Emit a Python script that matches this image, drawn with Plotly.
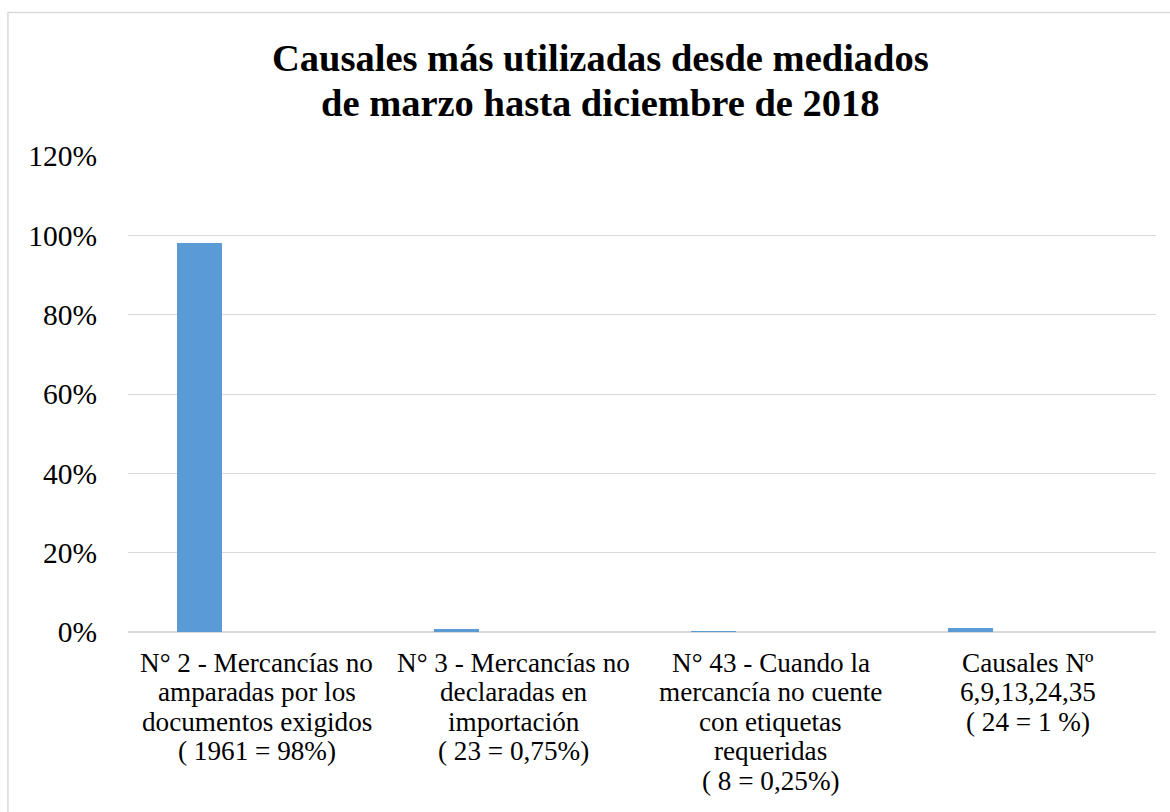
import plotly.graph_objects as go

categories = [
    "N° 2 - Mercancías no<br>amparadas por los<br>documentos exigidos<br>( 1961 = 98%)",
    "N° 3 - Mercancías no<br>declaradas en<br>importación<br>( 23 = 0,75%)",
    "N° 43 - Cuando la<br>mercancía no cuente<br>con etiquetas<br>requeridas<br>( 8 = 0,25%)",
    "Causales Nº<br>6,9,13,24,35<br>( 24 = 1 %)",
]
values = [0.98, 0.0075, 0.0025, 0.01]
y_ticks = [0, 0.2, 0.4, 0.6, 0.8, 1.0, 1.2]
y_labels = ["0%", "20%", "40%", "60%", "80%", "100%", "120%"]
title_lines = ["Causales más utilizadas desde mediados", "de marzo hasta diciembre de 2018"]

FONT = "Liberation Serif"
W, H = 1170, 812
L, R, T, B = 128, 14.3, 155.7, 179.7

fig = go.Figure()
fig.add_trace(go.Bar(
    x=list(range(len(categories))), y=values,
    width=0.174, offset=-0.3085,
    marker=dict(color="#5b9bd5", line=dict(width=0)),
    hoverinfo="y",
))

# category labels, one annotation per line
line_gap = 29.5
first = 30.7
for i, cat in enumerate(categories):
    for j, line in enumerate(cat.split("<br>")):
        fig.add_annotation(
            x=i, y=0, xref="x", yref="y", text=line, showarrow=False,
            yanchor="middle", xanchor="center",
            yshift=-(first + j * line_gap),
            font=dict(family=FONT, size=27.2, color="#000000"),
        )

# title lines
for j, (line, ys) in enumerate(zip(title_lines, [155.7 - 58, 155.7 - 103])):
    fig.add_annotation(
        x=(600 - L) / (W - L - R), y=1, xref="paper", yref="paper",
        text=f"<b>{line}</b>", showarrow=False,
        xanchor="center", yanchor="middle", yshift=ys,
        font=dict(family=FONT, size=38.5, color="#000000"),
    )

# outer border
pw = W - L - R
ph = H - T - B
fig.add_shape(
    type="rect", xref="paper", yref="paper",
    x0=(8 - L) / pw, x1=(W + 20 - L) / pw,
    y0=-(B + 20) / ph, y1=(H - B - 12) / ph,
    line=dict(color="#d9d9d9", width=1.5), fillcolor="rgba(0,0,0,0)",
    layer="below",
)

fig.update_layout(
    width=W, height=H,
    margin=dict(l=L, r=R, t=T, b=B, pad=0),
    paper_bgcolor="#ffffff", plot_bgcolor="#ffffff",
    showlegend=False, bargap=0,
    font=dict(family=FONT, color="#000000"),
)
fig.update_xaxes(
    type="linear", range=[-0.5, 3.5], showgrid=False, showticklabels=False,
    zeroline=False, showline=False, ticks="",
)
fig.update_yaxes(
    range=[0, 1.2], tickvals=y_ticks, ticktext=y_labels,
    showgrid=True, gridcolor="#d9d9d9", gridwidth=1,
    zeroline=True, zerolinecolor="#d9d9d9", zerolinewidth=2,
    ticks="", ticklabelstandoff=30,
    tickfont=dict(family=FONT, size=29.5, color="#000000"),
)

fig.write_html(
    "out.html",
    config={"displayModeBar": False},
    post_script="document.body.style.margin='0';document.body.style.overflow='hidden';",
)
